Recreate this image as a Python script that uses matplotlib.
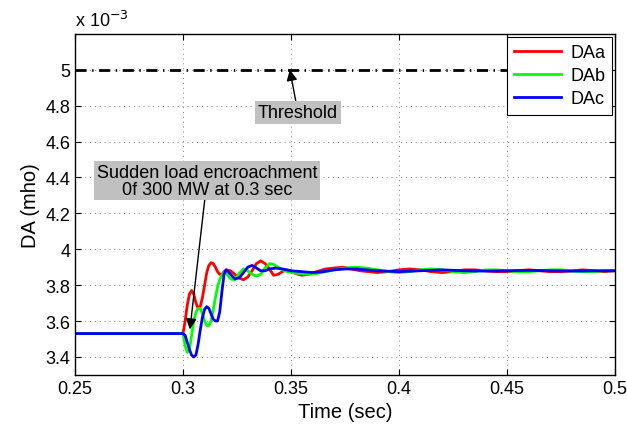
import numpy as np
import matplotlib
matplotlib.use('Agg')
import matplotlib.pyplot as plt

plt.rcParams['font.family'] = ['Liberation Sans', 'DejaVu Sans']

# -- data (values in units of 1e-3 mho) ----------------------------
t_a = [0.25, 0.300, 0.301, 0.302, 0.303, 0.304, 0.305, 0.306, 0.307, 0.308, 0.309,
       0.310, 0.311, 0.312, 0.313, 0.314, 0.315, 0.316, 0.317, 0.318, 0.319,
       0.320, 0.322, 0.324, 0.326, 0.328, 0.330, 0.332, 0.334, 0.336, 0.338,
       0.340, 0.342, 0.344, 0.346, 0.348, 0.350, 0.352, 0.355, 0.358, 0.362,
       0.366, 0.370, 0.374, 0.378, 0.382, 0.386, 0.390, 0.395, 0.400, 0.405,
       0.410, 0.415, 0.420, 0.425, 0.430, 0.435, 0.440, 0.445, 0.450, 0.455,
       0.460, 0.465, 0.470, 0.475, 0.480, 0.485, 0.490, 0.495, 0.500]
da_a = [3.53, 3.53, 3.60, 3.69, 3.75, 3.77, 3.75, 3.70, 3.67, 3.68, 3.73,
        3.80, 3.87, 3.91, 3.925, 3.92, 3.90, 3.875, 3.86, 3.86, 3.875,
        3.885, 3.88, 3.86, 3.84, 3.83, 3.845, 3.88, 3.92, 3.935, 3.92,
        3.89, 3.855, 3.86, 3.875, 3.885, 3.88, 3.865, 3.855, 3.86, 3.875,
        3.89, 3.895, 3.90, 3.89, 3.88, 3.875, 3.87, 3.875, 3.885, 3.89,
        3.885, 3.875, 3.87, 3.875, 3.885, 3.885, 3.88, 3.875, 3.875, 3.88,
        3.885, 3.88, 3.875, 3.875, 3.88, 3.885, 3.88, 3.875, 3.88]

t_b = [0.25, 0.300, 0.301, 0.302, 0.303, 0.304, 0.305, 0.306, 0.307, 0.308, 0.309,
       0.310, 0.311, 0.312, 0.313, 0.314, 0.315, 0.316, 0.317, 0.318, 0.319,
       0.320, 0.322, 0.324, 0.326, 0.328, 0.330, 0.332, 0.334, 0.336, 0.338,
       0.340, 0.342, 0.344, 0.347, 0.350, 0.354, 0.358, 0.362, 0.366, 0.370,
       0.375, 0.380, 0.385, 0.390, 0.395, 0.400, 0.405, 0.410, 0.415, 0.420,
       0.425, 0.430, 0.435, 0.440, 0.445, 0.450, 0.455, 0.460, 0.465, 0.470,
       0.475, 0.480, 0.485, 0.490, 0.495, 0.500]
da_b = [3.53, 3.53, 3.46, 3.425, 3.44, 3.52, 3.60, 3.65, 3.67, 3.67, 3.64,
        3.60, 3.575, 3.575, 3.60, 3.66, 3.73, 3.79, 3.83, 3.855, 3.87,
        3.865, 3.835, 3.83, 3.865, 3.89, 3.88, 3.86, 3.85, 3.86, 3.895,
        3.92, 3.915, 3.90, 3.88, 3.87, 3.865, 3.86, 3.865, 3.875, 3.885,
        3.895, 3.90, 3.895, 3.885, 3.875, 3.87, 3.875, 3.885, 3.89, 3.885,
        3.875, 3.87, 3.875, 3.885, 3.885, 3.88, 3.875, 3.875, 3.88, 3.885,
        3.885, 3.88, 3.875, 3.875, 3.88, 3.88]

t_c = [0.25, 0.300, 0.301, 0.302, 0.303, 0.304, 0.305, 0.306, 0.307, 0.308, 0.309,
       0.310, 0.311, 0.312, 0.313, 0.314, 0.315, 0.316, 0.317, 0.318, 0.319,
       0.320, 0.321, 0.322, 0.324, 0.326, 0.328, 0.330, 0.332, 0.334, 0.336,
       0.338, 0.340, 0.343, 0.346, 0.350, 0.355, 0.360, 0.365, 0.370, 0.375,
       0.380, 0.385, 0.390, 0.400, 0.410, 0.420, 0.430, 0.440, 0.450, 0.460,
       0.470, 0.480, 0.490, 0.500]
da_c = [3.53, 3.53, 3.52, 3.48, 3.44, 3.41, 3.40, 3.41, 3.47, 3.55, 3.62,
        3.665, 3.68, 3.67, 3.64, 3.61, 3.60, 3.60, 3.65, 3.76, 3.86,
        3.885, 3.875, 3.86, 3.835, 3.84, 3.87, 3.90, 3.91, 3.895, 3.88,
        3.88, 3.89, 3.895, 3.89, 3.88, 3.875, 3.87, 3.875, 3.885, 3.89,
        3.89, 3.885, 3.88, 3.875, 3.88, 3.885, 3.88, 3.878, 3.88, 3.882,
        3.88, 3.878, 3.88, 3.88]

threshold = 5.0
series_labels = ['DAa', 'DAb', 'DAc']
series_colors = ['#ff0000', '#00ff00', '#0000ff']
x_ticks = [0.25, 0.3, 0.35, 0.4, 0.45, 0.5]
y_ticks = [3.4, 3.6, 3.8, 4.0, 4.2, 4.4, 4.6, 4.8, 5.0]

# -- figure --------------------------------------------------------
fig = plt.figure(figsize=(6.27, 4.31), dpi=100)
ax = fig.add_axes([0.1196, 0.128, 0.8612, 0.791])

for t, v, lab, c in zip([t_a, t_b, t_c], [da_a, da_b, da_c], series_labels, series_colors):
    ax.plot(t, v, color=c, lw=2.0, label=lab)

ax.axhline(threshold, color='k', lw=2.0, linestyle=(0, (4.0, 2.0, 0.5, 2.0)))

ax.set_xlim(0.25, 0.5)
ax.set_ylim(3.3, 5.2)
ax.set_xticks(x_ticks, labels=[f'{v:g}' for v in x_ticks])
ax.set_yticks(y_ticks, labels=[f'{v:g}' for v in y_ticks])
ax.tick_params(direction='in', top=True, right=True, labelsize=13, length=4)
ax.grid(True, color='0.5', lw=0.7, linestyle=(0, (1, 4)))
for s in ax.spines.values():
    s.set_linewidth(1.0)

ax.set_xlabel('Time (sec)', fontsize=14.5, labelpad=4)
ax.set_ylabel('DA (mho)', fontsize=14.5, labelpad=4)
ax.text(0.0, 1.012, r'x 10$^{-3}$', transform=ax.transAxes, fontsize=13,
        ha='left', va='bottom')

# -- annotations ---------------------------------------------------
box = dict(boxstyle='square,pad=0.15', fc='#c0c0c0', ec='none')
arrow = dict(arrowstyle='-|>', color='k', lw=1.0, mutation_scale=16, shrinkA=0, shrinkB=0)
ax.annotate('Threshold', xy=(0.3495, 5.0), xytext=(0.3532, 4.762),
            fontsize=13, ha='center', va='center', bbox=box, arrowprops=arrow)
ax.annotate('Sudden load encroachment\n0f 300 MW at 0.3 sec', xy=(0.3032, 3.553),
            xytext=(0.3111, 4.383), fontsize=13, ha='center', va='center',
            linespacing=1.0, bbox=box, arrowprops=arrow)

leg = ax.legend(loc='upper right', fontsize=13, frameon=True, fancybox=False,
                framealpha=1.0, edgecolor='k', handlelength=2.6,
                borderaxespad=0.15, labelspacing=0.35, handletextpad=0.5)
leg.get_frame().set_linewidth(0.8)
leg.set_zorder(5)

fig.savefig('out.png', dpi=100)
